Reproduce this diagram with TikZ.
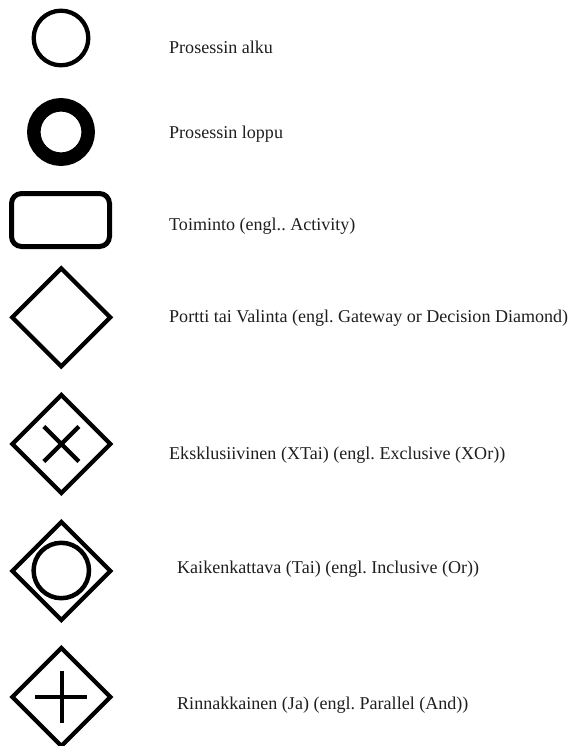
\documentclass[tikz,border=0pt]{standalone}
\usepackage{fontspec}
\setmainfont{Liberation Serif}
\usetikzlibrary{calc}
\frenchspacing
\begin{document}
\begin{tikzpicture}[x=1pt,y=-1pt,
  sym/.style={draw=black,line width=4.3pt,fill=white},
  gate/.style={draw=black,line width=4.3pt,line join=miter,fill=white},
  gmark/.style={draw=black,line width=4.6pt},
  lbl/.style={anchor=base west,inner sep=0pt,font=\fontsize{18.05}{20}\selectfont,text=black!88}]
  \useasboundingbox[fill=white] (0,0) rectangle (573,746);

  % start and end events
  \draw[sym] (61,38) circle[radius=27.3];
  \draw[draw=black,line width=13.5pt,fill=white] (61,132) circle[radius=27.2];
  % activity
  \draw[sym,line width=5pt,rounded corners=10pt] (11.5,193.5) rectangle (109.5,246.5);

  % gateways
  \foreach \n/\cy in {g1/317.4,g2/444,g3/571,g4/697}{
    \coordinate (\n) at (61.3,\cy);
    \draw[gate] ($(\n)+(0,-49)$) -- ($(\n)+(49,0)$) -- ($(\n)+(0,49)$) -- ($(\n)+(-49,0)$) -- cycle;
  }
  % exclusive marker
  \draw[gmark,line width=4.3pt] ($(g2)+(-17.5,-17.5)$) -- ($(g2)+(17.5,17.5)$)
                               ($(g2)+(-17.5,17.5)$) -- ($(g2)+(17.5,-17.5)$);
  % inclusive marker
  \draw[gmark,line width=4.5pt] ($(g3)+(0,-0.5)$) circle[radius=27.7];
  % parallel marker
  \draw[gmark] ($(g4)+(-26,0)$) -- ($(g4)+(26,0)$)
              ($(g4)+(0.7,-26)$) -- ($(g4)+(0.7,26)$);

  % labels
  \node[lbl] (t1) at (169,54)  {Prosessin alku};
  \node[lbl] (t2) at (169,139) {Prosessin loppu};
  \node[lbl] (t3) at (169,230) {Toiminto (engl.. Activity)};
  \node[lbl] (t4) at (169,322) {Portti tai Valinta (engl. Gateway or Decision Diamond)};
  \node[lbl] (t5) at (169,459) {Eksklusiivinen (XTai) (engl. Exclusive (XOr))};
  \node[lbl] (t6) at (177,573) {Kaikenkattava (Tai) (engl. Inclusive (Or))};
  \node[lbl] (t7) at (177,709) {Rinnakkainen (Ja) (engl. Parallel (And))};
\end{tikzpicture}
\end{document}
